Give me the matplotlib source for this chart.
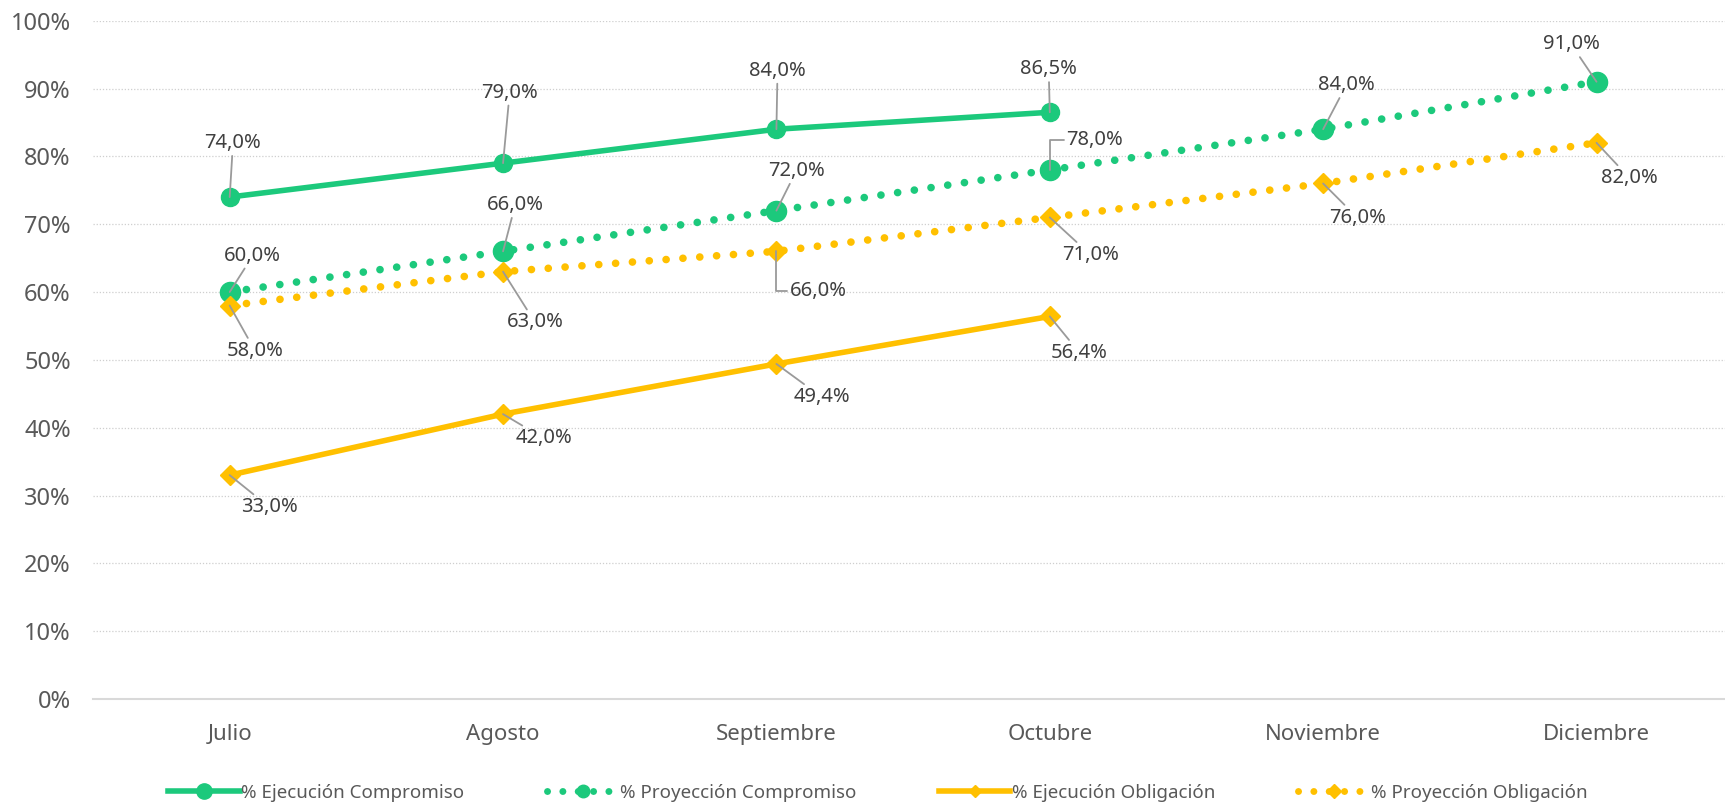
import matplotlib
matplotlib.use("Agg")
import matplotlib.pyplot as plt
from matplotlib.lines import Line2D
from matplotlib.ticker import FuncFormatter, MultipleLocator

plt.rcParams['font.family'] = ['Noto Sans', 'DejaVu Sans']

months = ["Julio", "Agosto", "Septiembre", "Octubre", "Noviembre", "Diciembre"]
ejec_comp = [74.0, 79.0, 84.0, 86.5]
proy_comp = [60.0, 66.0, 72.0, 78.0, 84.0, 91.0]
ejec_obl = [33.0, 42.0, 49.4, 56.4]
proy_obl = [58.0, 63.0, 66.0, 71.0, 76.0, 82.0]

# label offsets (pixels in reference, dx right, dy down)
off_ec = [(3, -49), (6, -64), (1, -53), (-1, -39)]
off_pc = [(21, -33), (11, -42), (18, -36), (41, -27), (21, -40), (-23, -34)]
off_eo = [(36, 29), (37, 22), (41, 30), (27, 33)]
off_po = [(23, 41), (29, 46), (38, 36), (37, 34), (31, 31), (30, 32)]

GREEN = "#1CC97C"
YELLOW = "#FFC000"
W, H = 1725, 809
fig = plt.figure(figsize=(W / 100, H / 100), dpi=100)
ax = fig.add_axes([93 / W, 1 - 699 / H, 1 - 93 / W, (699 - 20.7) / H])

x_all = list(range(len(months)))
x_ej = list(range(len(ejec_comp)))

dot = (0, (0.01, 2.2))
ax.plot(x_all, proy_comp, color=GREEN, lw=5.5, ls=dot, dash_capstyle='round', zorder=3)
ax.plot(x_all, proy_comp, ls='none', marker='o', ms=14.5, color=GREEN, zorder=4)
ax.plot(x_all, proy_obl, color=YELLOW, lw=5.5, ls=dot, dash_capstyle='round', zorder=3)
ax.plot(x_all, proy_obl, ls='none', marker='D', ms=10, color=YELLOW, zorder=4)
ax.plot(x_ej, ejec_comp, color=GREEN, lw=4, solid_capstyle='round', marker='o', ms=13, zorder=5)
ax.plot(x_ej, ejec_obl, color=YELLOW, lw=4, solid_capstyle='round', marker='D', ms=10, zorder=5)

f = 1.1001 * 0.72
def label(xs, ys, offs, elbow=()):
    for i, (xi, yi, (dx, dy)) in enumerate(zip(xs, ys, offs)):
        cs = "angle,angleA=0,angleB=90,rad=0" if i in elbow else "arc3"
        ax.annotate(f"{yi:.1f}%".replace(".", ","), xy=(xi, yi),
                    xytext=(dx * f, -dy * f), textcoords='offset points',
                    ha='center', va='center', fontsize=14.5, color='#404040',
                    arrowprops=dict(arrowstyle='-', color='#9a9a9a', lw=1.3,
                                    shrinkA=0, shrinkB=0, connectionstyle=cs),
                    zorder=6)

label(x_ej, ejec_comp, off_ec)
label(x_all, proy_comp, off_pc, elbow=(3,))
label(x_ej, ejec_obl, off_eo)
label(x_all, proy_obl, off_po, elbow=(2,))

ax.set_xlim(-0.5, 5.47)
ax.set_ylim(0, 100)
ax.yaxis.set_major_locator(MultipleLocator(10))
ax.yaxis.set_major_formatter(FuncFormatter(lambda v, p: f"{v:.0f}%"))
ax.set_xticks(x_all)
ax.set_xticklabels(months)
ax.tick_params(axis='y', length=0, pad=16, labelsize=17, labelcolor='#595959')
ax.tick_params(axis='x', length=0, pad=18, labelsize=16, labelcolor='#595959')
ax.grid(axis='y', color='#cfcfcf', ls=(0, (1, 1.5)), lw=0.9)
ax.set_axisbelow(True)
for s in ['top', 'right', 'left']:
    ax.spines[s].set_visible(False)
ax.spines['bottom'].set_color('#d9d9d9')
ax.spines['bottom'].set_linewidth(1.5)

handles = [
    Line2D([], [], color=GREEN, lw=4, marker='o', ms=11),
    Line2D([], [], color=GREEN, lw=5, ls=dot, dash_capstyle='round', marker='o', ms=9, markevery=[1]),
    Line2D([], [], color=YELLOW, lw=4, marker='D', ms=6),
    Line2D([], [], color=YELLOW, lw=5, ls=dot, dash_capstyle='round', marker='D', ms=7, markevery=[1]),
]
labels = ["% Ejecución Compromiso", "% Proyección Compromiso",
          "% Ejecución Obligación", "% Proyección Obligación"]
fig.legend(handles, labels, loc='center', bbox_to_anchor=(0.509, 1 - 793 / H),
           ncol=4, frameon=False, fontsize=13.5, labelcolor='#595959',
           handlelength=3.8, handletextpad=0.1, columnspacing=4.4)

fig.savefig("out.png", dpi=100)
